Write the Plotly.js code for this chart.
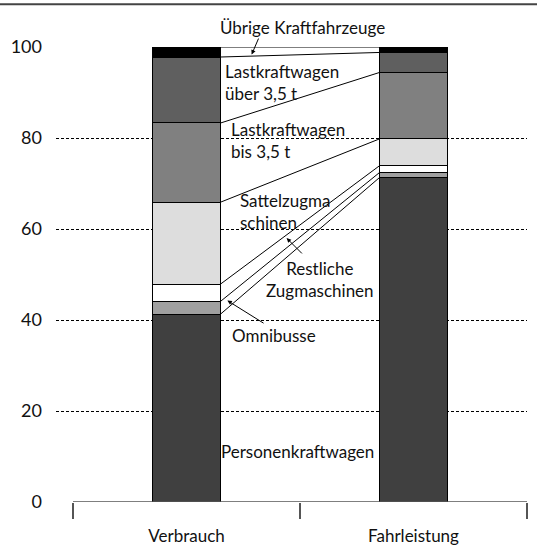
<!DOCTYPE html>
<html>
<head>
<meta charset="utf-8">
<script src="https://cdn.plot.ly/plotly-3.0.1.min.js"></script>
<style>html,body{margin:0;padding:0;background:#fff;}#chart{width:537px;height:558px;}</style>
</head>
<body>
<div id="chart"></div>
<script>
// Data (percent shares)
const categories = ["Verbrauch", "Fahrleistung"];
const seriesNames = ["Personenkraftwagen", "Omnibusse", "Restliche Zugmaschinen", "Sattelzugmaschinen", "Lastkraftwagen bis 3,5 t", "Lastkraftwagen über 3,5 t", "Übrige Kraftfahrzeuge"];
const pkw = [41.3, 71.3];
const omnibusse = [2.8, 1.1];
const restlicheZug = [3.8, 1.5];
const sattelzug = [18.0, 5.9];
const lkwBis35 = [17.4, 14.6];
const lkwUeber35 = [14.5, 4.4];
const uebrige = [2.2, 1.2];
const yTicks = [0, 20, 40, 60, 80, 100];

const seriesValues = [pkw, omnibusse, restlicheZug, sattelzug, lkwBis35, lkwUeber35, uebrige];
const colors = ["#404040", "#a0a0a0", "#ffffff", "#dddddd", "#808080", "#5f5f5f", "#000000"];
const FONT = "Lato, 'Liberation Sans', sans-serif";
const barWidth = 0.3;
const xPos = [0, 1];

const traces = seriesValues.map((vals, i) => ({
  type: "bar", x: xPos, y: vals, name: seriesNames[i], width: barWidth,
  marker: {color: colors[i], line: {color: "#000", width: 1}},
  hoverinfo: "y+name"
}));

// connector lines between cumulative boundaries
let cumL = 0, cumR = 0;
const lx = [], ly = [];
seriesValues.forEach(v => {
  cumL += v[0]; cumR += v[1];
  lx.push(barWidth / 2, 1 - barWidth / 2, null);
  ly.push(cumL, cumR, null);
});
traces.push({type: "scatter", mode: "lines", x: lx, y: ly, line: {color: "#000", width: 1}, hoverinfo: "skip", showlegend: false});

const tf = {family: FONT, size: 17, color: "#111"};
function label(text, x, y, xanchor, align, yref) {
  return {text: text, x: x, y: y, xref: "x", yref: yref || "y", showarrow: false, xanchor: xanchor, yanchor: "middle", align: align, font: tf};
}
function arrow(x, y, ax, ay) {
  return {text: " ", x: x, y: y, ax: ax, ay: ay, xref: "x", yref: "y", axref: "x", ayref: "y", showarrow: true,
    arrowhead: 2, arrowsize: 0.9, arrowwidth: 1, arrowcolor: "#000", standoff: 0, startstandoff: 0, font: {size: 1}};
}

const annotations = [
  label("Übrige Kraftfahrzeuge", 0.513, 1.042, "center", "center", "paper"),
  arrow(0.287, 98.35, 0.321, 102.3),
  label("Lastkraftwagen<br>über 3,5 t", 0.161, 92.3, "left", "left"),
  label("Lastkraftwagen<br>bis 3,5 t", 0.187, 79.4, "left", "left"),
  label("Sattelzugma<br>schinen", 0.227, 63.9, "left", "left"),
  label("Restliche<br>Zugmaschinen", 0.588, 49.0, "center", "center"),
  arrow(0.441, 58.0, 0.515, 54.3),
  label("Omnibusse", 0.385, 36.7, "center", "center"),
  arrow(0.180, 44.27, 0.346, 39.1),
  label("Personenkraftwagen", 0.491, 11.0, "center", "center")
];

const layout = {
  width: 537, height: 558,
  margin: {l: 56, r: 10, t: 47, b: 56},
  paper_bgcolor: "#fff", plot_bgcolor: "#fff",
  barmode: "stack", showlegend: false,
  font: {family: FONT, size: 17, color: "#111"},
  xaxis: {
    range: [-0.575, 1.5], tickmode: "array", tickvals: xPos, ticktext: categories,
    ticks: "", showgrid: false, zeroline: false, showline: false, ticklabelstandoff: 22,
    tickfont: {family: FONT, size: 17, color: "#111"}, fixedrange: true,
    minor: {tickmode: "array", tickvals: [-0.5, 0.5, 1.5], ticks: "outside", ticklen: 16, tickwidth: 1.5, tickcolor: "#555", showgrid: false}
  },
  yaxis: {
    range: [0, 100], tickmode: "array", tickvals: yTicks, ticks: "", showline: false, zeroline: false,
    showgrid: true, gridcolor: "#000", gridwidth: 1, griddash: "3px,2px", ticklabelstandoff: 13,
    tickfont: {family: FONT, size: 18, color: "#111"}, fixedrange: true
  },
  shapes: [
    {type: "line", xref: "x", yref: "y", x0: -0.5, x1: 1.5, y0: 0, y1: 0, line: {color: "#555", width: 1.5}},
    {type: "line", xref: "paper", yref: "paper", x0: -0.2, x1: 1.1, y0: 1.094, y1: 1.094, line: {color: "#444", width: 2}}
  ],
  annotations: annotations
};

Plotly.newPlot("chart", traces, layout, {displayModeBar: false, staticPlot: true});
</script>
</body>
</html>
